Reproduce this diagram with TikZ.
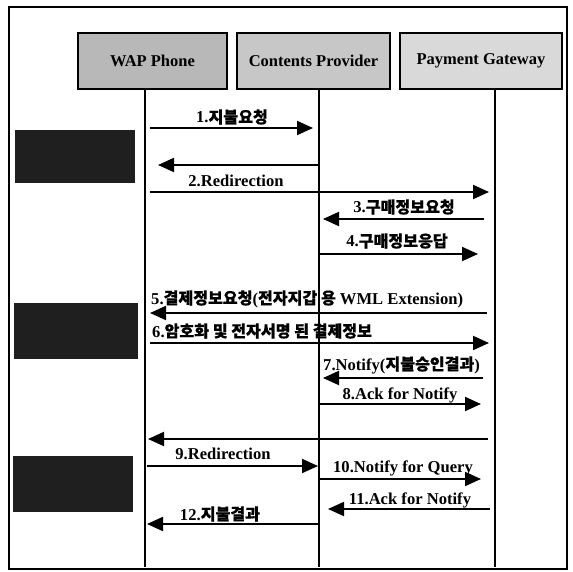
\documentclass[tikz,border=0pt]{standalone}
\usepackage{fontspec}
\setmainfont{Liberation Serif}
\newfontfamily\kr{Noto Sans CJK KR}[Scale=0.97,FakeBold=0.6]
\usetikzlibrary{arrows.meta}
\begin{document}
\begin{tikzpicture}[x=1pt,y=-1pt,
  hdr/.style={draw=black,line width=2.2pt,minimum height=56pt,inner sep=0pt,font=\fontsize{16.5}{18}\selectfont\bfseries},
  darkbox/.style={fill=black!88,draw=none},
  life/.style={line width=1.6pt},
  msg/.style={line width=1.9pt,-{Triangle[length=16pt,width=14pt]}},
  lbl/.style={anchor=base,inner sep=0pt,font=\fontsize{16.6}{19}\selectfont\bfseries},
  lbll/.style={lbl,anchor=base west},
  ]
\useasboundingbox (0,0) rectangle (573,572);
\draw[line width=1.5pt] (9,7) rectangle (567,569);

% headers
\node[hdr,fill=black!28,minimum width=149pt] (wap) at (152.5,61) {WAP Phone};
\node[hdr,fill=black!22,minimum width=153pt] (cp) at (313.5,61) {Contents Provider};
\node[hdr,fill=black!15,minimum width=162pt] (pg) at (481,61) {Payment Gateway};

% lifelines
\coordinate (wapL) at (145,567);
\coordinate (cpL) at (319,567);
\coordinate (pgL) at (495,567);
\draw[life] (wap.south -| wapL) -- (wapL);
\draw[life] (cp.south -| cpL) -- (cpL);
\draw[life] (pg.south -| pgL) -- (pgL);

% dark boxes
\fill[darkbox] (15,130) rectangle (135,183);
\fill[darkbox] (14,303) rectangle (138,359);
\fill[darkbox] (13,456) rectangle (133,512);

% 1
\coordinate (s1) at (150,128); \coordinate (e1) at (313,128);
\draw[msg] (s1) -- (e1);
\node[lbl] (l1) at (232,123) {1.{\kr 지불요청}};
% back
\coordinate (sb) at (319,165); \coordinate (eb) at (158,165);
\draw[msg] (sb) -- (eb);
% 2
\coordinate (s2) at (150,192); \coordinate (e2) at (489,192);
\draw[msg] (s2) -- (e2);
\node[lbl] (l2) at (236,187) {2.Redirection};
% 3
\coordinate (s3) at (484,219); \coordinate (e3) at (323,219);
\draw[msg] (s3) -- (e3);
\node[lbl] (l3) at (404,213) {3.{\kr 구매정보요청}};
% 4
\coordinate (s4) at (319,254); \coordinate (e4) at (478,254);
\draw[msg] (s4) -- (e4);
\node[lbl] (l4) at (397,247) {4.{\kr 구매정보응답}};
% 5
\coordinate (s5) at (487,313); \coordinate (e5) at (150,313);
\draw[msg] (s5) -- (e5);
\node[lbll] (l5) at (151,304) {5.{\kr 결제정보요청}({\kr 전자지갑 용} WML Extension)};
% 6
\coordinate (s6) at (150,343); \coordinate (e6) at (489,343);
\draw[msg] (s6) -- (e6);
\node[lbll] (l6) at (152,337) {6.{\kr 암호화 및 전자서명 된 결제정보}};
% 7
\coordinate (s7) at (483,378); \coordinate (e7) at (323,378);
\draw[msg] (s7) -- (e7);
\node[lbll] (l7) at (323,370) {7.Notify({\kr 지불승인결과})};
% 8
\coordinate (s8) at (319,404); \coordinate (e8) at (481,404);
\draw[msg] (s8) -- (e8);
\node[lbl] (l8) at (400,399) {8.Ack for Notify};
% back 9
\coordinate (sb9) at (488,439); \coordinate (eb9) at (148,439);
\draw[msg] (sb9) -- (eb9);
% 9
\coordinate (s9) at (147,466); \coordinate (e9) at (318,466);
\draw[msg] (s9) -- (e9);
\node[lbl] (l9) at (223,459) {9.Redirection};
% 10
\coordinate (s10) at (319,479); \coordinate (e10) at (481,479);
\draw[msg] (s10) -- (e10);
\node[lbl] (l10) at (403,472) {10.Notify for Query};
% 11
\coordinate (s11) at (490,509); \coordinate (e11) at (328,509);
\draw[msg] (s11) -- (e11);
\node[lbl] (l11) at (410,504) {11.Ack for Notify};
% 12
\coordinate (s12) at (319,524); \coordinate (e12) at (147,524);
\draw[msg] (s12) -- (e12);
\node[lbl] (l12) at (220,520) {12.{\kr 지불결과}};
\end{tikzpicture}
\end{document}
